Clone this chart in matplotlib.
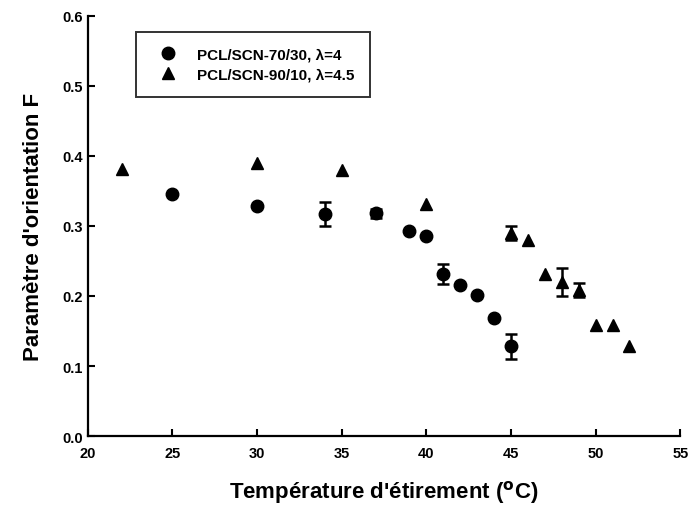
import matplotlib.pyplot as plt

plt.rcParams['font.family'] = ['Liberation Sans', 'DejaVu Sans']
plt.rcParams['font.weight'] = 'bold'
plt.rcParams['mathtext.default'] = 'bf'

# PCL/SCN-70/30, lambda=4
t_7030 = [25, 30, 34, 37, 39, 40, 41, 42, 43, 44, 45]
f_7030 = [0.346, 0.329, 0.317, 0.318, 0.293, 0.286, 0.231, 0.215, 0.201, 0.168, 0.128]
e_7030 = [0, 0, 0.017, 0.006, 0, 0, 0.014, 0, 0, 0, 0.018]

# PCL/SCN-90/10, lambda=4.5
t_9010 = [22, 30, 35, 40, 45, 46, 47, 48, 49, 50, 51, 52]
f_9010 = [0.381, 0.390, 0.380, 0.331, 0.290, 0.280, 0.231, 0.220, 0.208, 0.159, 0.158, 0.128]
e_9010 = [0, 0, 0, 0, 0.010, 0, 0, 0.020, 0.010, 0, 0, 0]

fig = plt.figure(figsize=(6.97, 5.10), dpi=100)
ax = fig.add_axes([0.126, 0.143, 0.85, 0.824])


def with_err(t, f, e):
    keep = [i for i in range(len(e)) if e[i] > 0]
    return [t[i] for i in keep], [f[i] for i in keep], [e[i] for i in keep]


ax.plot(t_7030, f_7030, 'o', color='black', ms=9, label='PCL/SCN-70/30, λ=4')
ax.plot(t_9010, f_9010, '^', color='black', ms=8.5, label='PCL/SCN-90/10, λ=4.5')
for t, f, e in (with_err(t_7030, f_7030, e_7030), with_err(t_9010, f_9010, e_9010)):
    ax.errorbar(t, f, yerr=e, fmt='none', ecolor='black', capsize=4,
                elinewidth=1.8, capthick=1.8)

ax.set_xlim(20, 55)
ax.set_ylim(0, 0.6)
ax.set_xticks(range(20, 56, 5))
ax.set_yticks([0.0, 0.1, 0.2, 0.3, 0.4, 0.5, 0.6])
ax.set_yticklabels(['0.0', '0.1', '0.2', '0.3', '0.4', '0.5', '0.6'])
ax.tick_params(direction='in', length=5, width=1.5, labelsize=10.5)
ax.tick_params(axis='x', pad=7)
for lab in ax.get_xticklabels() + ax.get_yticklabels():
    lab.set_fontweight('bold')

ax.spines['top'].set_visible(False)
ax.spines['right'].set_visible(False)
ax.spines['left'].set_linewidth(1.6)
ax.spines['bottom'].set_linewidth(1.6)

ax.set_xlabel("Température d'étirement ($^{o}$C)", fontsize=16, fontweight='bold', labelpad=13)
ax.set_ylabel("Paramètre d'orientation F", fontsize=16, fontweight='bold', labelpad=13)

leg = ax.legend(loc='upper left', bbox_to_anchor=(0.082, 0.962),
                fontsize=11, frameon=True, fancybox=False, edgecolor='black',
                borderpad=1.05, handletextpad=0.9, labelspacing=0.35, borderaxespad=0)
leg.get_frame().set_linewidth(1.4)
for t in leg.get_texts():
    t.set_fontweight('bold')

fig.savefig('out.png', dpi=100)
